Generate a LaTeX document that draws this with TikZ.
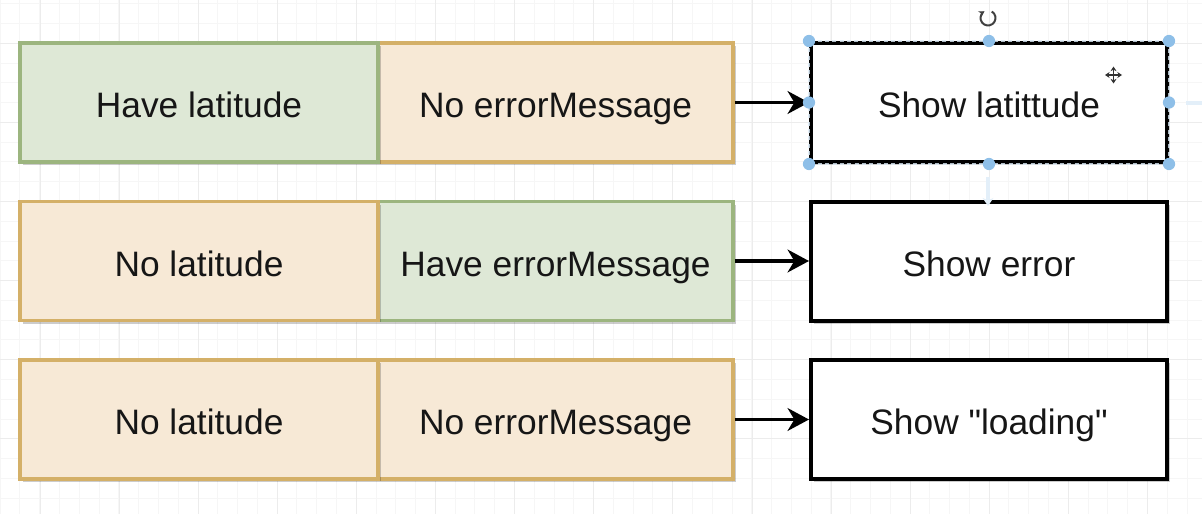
\documentclass[tikz,border=0pt]{standalone}
\usepackage{fontspec}
\newfontfamily\boxfont{Liberation Sans}
\usetikzlibrary{arrows.meta,shadows}
\definecolor{gfill}{HTML}{DEE8D6}
\definecolor{gline}{HTML}{9CB57F}
\definecolor{ofill}{HTML}{F7E9D6}
\definecolor{oline}{HTML}{D4B068}
\definecolor{handle}{HTML}{8EBFE8}
\definecolor{gridmin}{HTML}{F6F6F6}
\definecolor{gridmaj}{HTML}{ECECEC}
\definecolor{txt}{HTML}{161616}
\begin{document}
\begin{tikzpicture}[x=0.75pt,y=-0.75pt,
 box/.style={rectangle, inner sep=0pt, minimum height=89.25pt, line width=2.6pt,
   text=txt, font=\boxfont\fontsize{26.5}{30}\selectfont,
   text height=26pt, text depth=2.8pt,
   drop shadow={shadow xshift=2.4pt, shadow yshift=-2.4pt, fill=black, opacity=0.2}},
 greenbox/.style={box, fill=gfill, draw=gline},
 orangebox/.style={box, fill=ofill, draw=oline},
 outbox/.style={box, fill=white, draw=black, line width=3pt, minimum width=267pt},
 leftw/.style={minimum width=268.5pt},
 rightw/.style={minimum width=266.25pt},
 conn/.style={line width=2.8pt, -{Stealth[length=16pt,width=17pt,inset=5pt]}},
 gmin/.style={draw=gridmin, line width=0.75pt},
 gmaj/.style={draw=gridmaj, line width=0.75pt},
]
\useasboundingbox (0,0) rectangle (1202,514);
\fill[white] (0,0) rectangle (1202,514);
% grid
\foreach \k in {0,...,61} \draw[gmin] ({0.2+\k*19.78},0) -- ++(0,514);
\foreach \k in {0,...,26} \draw[gmin] (0,{3.7+\k*19.78}) -- ++(1202,0);
\foreach \k in {0,...,15} \draw[gmaj] ({40+\k*79.12},0) -- ++(0,514);
\foreach \k in {0,...,6} \draw[gmaj] (0,{43.3+\k*79.12}) -- ++(1202,0);

% row 1
\node[orangebox,rightw] (r1) at (555.5,102.5) {No errorMessage};
\node[greenbox,leftw] (l1) at (199,102.5) {Have latitude};
\node[outbox] (o1) at (989,102.5) {Show latittude};
% row 2
\node[greenbox,rightw] (r2) at (555.5,261) {Have errorMessage};
\node[orangebox,leftw] (l2) at (199,261) {No latitude};
\node[outbox] (o2) at (989,261) {Show error};
% row 3
\node[orangebox,rightw] (r3) at (555.5,419.5) {No errorMessage};
\node[orangebox,leftw] (l3) at (199,419.5) {No latitude};
\node[outbox] (o3) at (989,419.5) {Show "loading"};

% connectors
\draw[conn] (r1) -- (o1);
\draw[conn] (r2) -- (o2);
\draw[conn] (r3) -- (o3);

% selection decoration on o1
\draw[white!70!handle, opacity=0.8, line width=1pt, dash pattern=on 3pt off 2.5pt]
  (o1.north west) rectangle (o1.south east);
\foreach \a in {north west,north,north east,east,south east,south,south west,west}
  \fill[handle] (o1.\a) circle (4.6pt);
% faint hover arrows
\draw[handle!25, line width=3pt] (1186,103) -- (1202,103);
\draw[handle!25, line width=3pt, -{Stealth[length=6pt,width=8pt]}] (988,177) -- (988,206);
% rotate icon
\draw[line width=1.5pt, black!75, -{Stealth[length=4pt,width=5pt]}]
  (988,18) ++(-60:7.5) arc[start angle=-60, end angle=240, radius=7.5];
% move cursor
\draw[line width=1.4pt, black!80, {Stealth[length=3.5pt,width=4.5pt]}-{Stealth[length=3.5pt,width=4.5pt]}] (1105,75) -- (1122,75);
\draw[line width=1.4pt, black!80, {Stealth[length=3.5pt,width=4.5pt]}-{Stealth[length=3.5pt,width=4.5pt]}] (1113.5,66.5) -- (1113.5,83.5);
\end{tikzpicture}
\end{document}
